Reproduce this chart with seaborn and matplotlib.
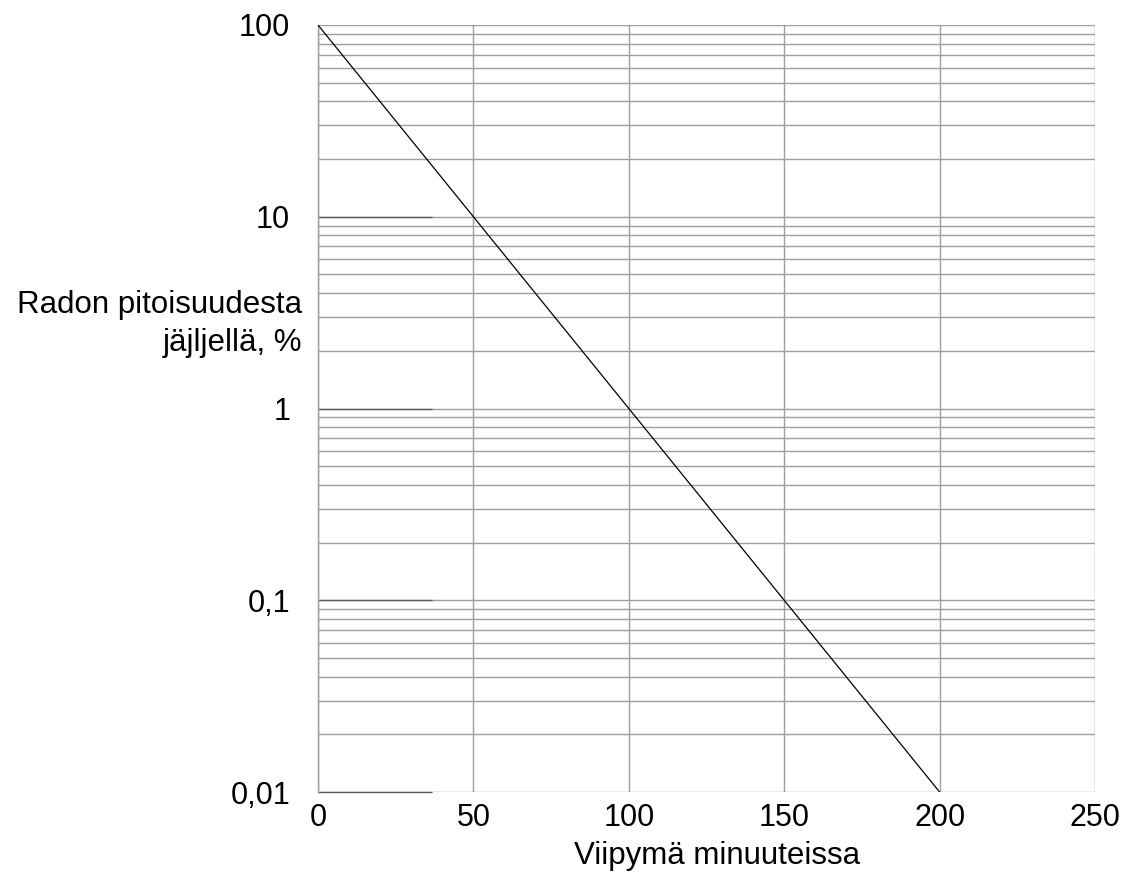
import matplotlib
matplotlib.use("Agg")
import matplotlib.pyplot as plt
import seaborn as sns
import pandas as pd
from matplotlib.ticker import FixedLocator, FixedFormatter, LogLocator, NullFormatter

# Data
minutes = [0, 50, 100, 150, 200]
remaining_pct = [100, 10, 1, 0.1, 0.01]
x_ticks = [0, 50, 100, 150, 200, 250]
x_tick_labels = ["0", "50", "100", "150", "200", "250"]
y_ticks = [0.01, 0.1, 1, 10, 100]
y_tick_labels = ["0,01", "0,1", "1", "10", "100"]
dark_major_end = 36.7  # minutes, where decade lines are drawn darker

sns.set_theme(style="white")
plt.rcParams["font.family"] = ["Liberation Sans", "DejaVu Sans"]

df = pd.DataFrame({"minutes": minutes, "remaining": remaining_pct})

fig = plt.figure(figsize=(11.28, 8.75), dpi=100)
ax = fig.add_axes([318 / 1128, 1 - 792 / 875, (1095 - 318) / 1128, (792 - 25) / 875])

ax.set_yscale("log")
ax.set_xlim(0, 250)
ax.set_ylim(0.01, 100)

grid_col = "#9e9e9e"
ax.yaxis.set_major_locator(FixedLocator(y_ticks))
ax.yaxis.set_major_formatter(FixedFormatter(y_tick_labels))
ax.yaxis.set_minor_locator(LogLocator(base=10, subs=range(2, 10)))
ax.yaxis.set_minor_formatter(NullFormatter())
ax.xaxis.set_major_locator(FixedLocator(x_ticks))
ax.xaxis.set_major_formatter(FixedFormatter(x_tick_labels))

ax.grid(True, which="major", axis="both", color=grid_col, linewidth=1.0)
ax.grid(True, which="minor", axis="y", color=grid_col, linewidth=1.0)

# darker short segments at decades on the left
ax.hlines(y_ticks[:-1], 0, dark_major_end, colors="#5a5a5a", linewidth=1.0, zorder=1.5, clip_on=False)

sns.lineplot(data=df, x="minutes", y="remaining", color="black", linewidth=0.9, ax=ax, zorder=3)

for s in ["top", "right", "bottom"]:
    ax.spines[s].set_visible(False)
ax.spines["left"].set_color(grid_col)
ax.spines["left"].set_linewidth(1.0)

ax.tick_params(axis="both", which="both", length=0, labelsize=22, colors="black")
ax.tick_params(axis="y", pad=20)
ax.tick_params(axis="x", pad=8)
ax.set_xlabel("")
ax.set_ylabel("")

fig.text(302 / 1128, 1 - 324 / 875, "Radon pitoisuudesta\njäjljellä, %", ha="right", va="center",
         fontsize=22.5, linespacing=1.32, color="black")
fig.text(717 / 1128, 1 - 856 / 875, "Viipymä minuuteissa", ha="center", va="center",
         fontsize=22.5, color="black")

fig.savefig("out.png", dpi=100, facecolor="white")
